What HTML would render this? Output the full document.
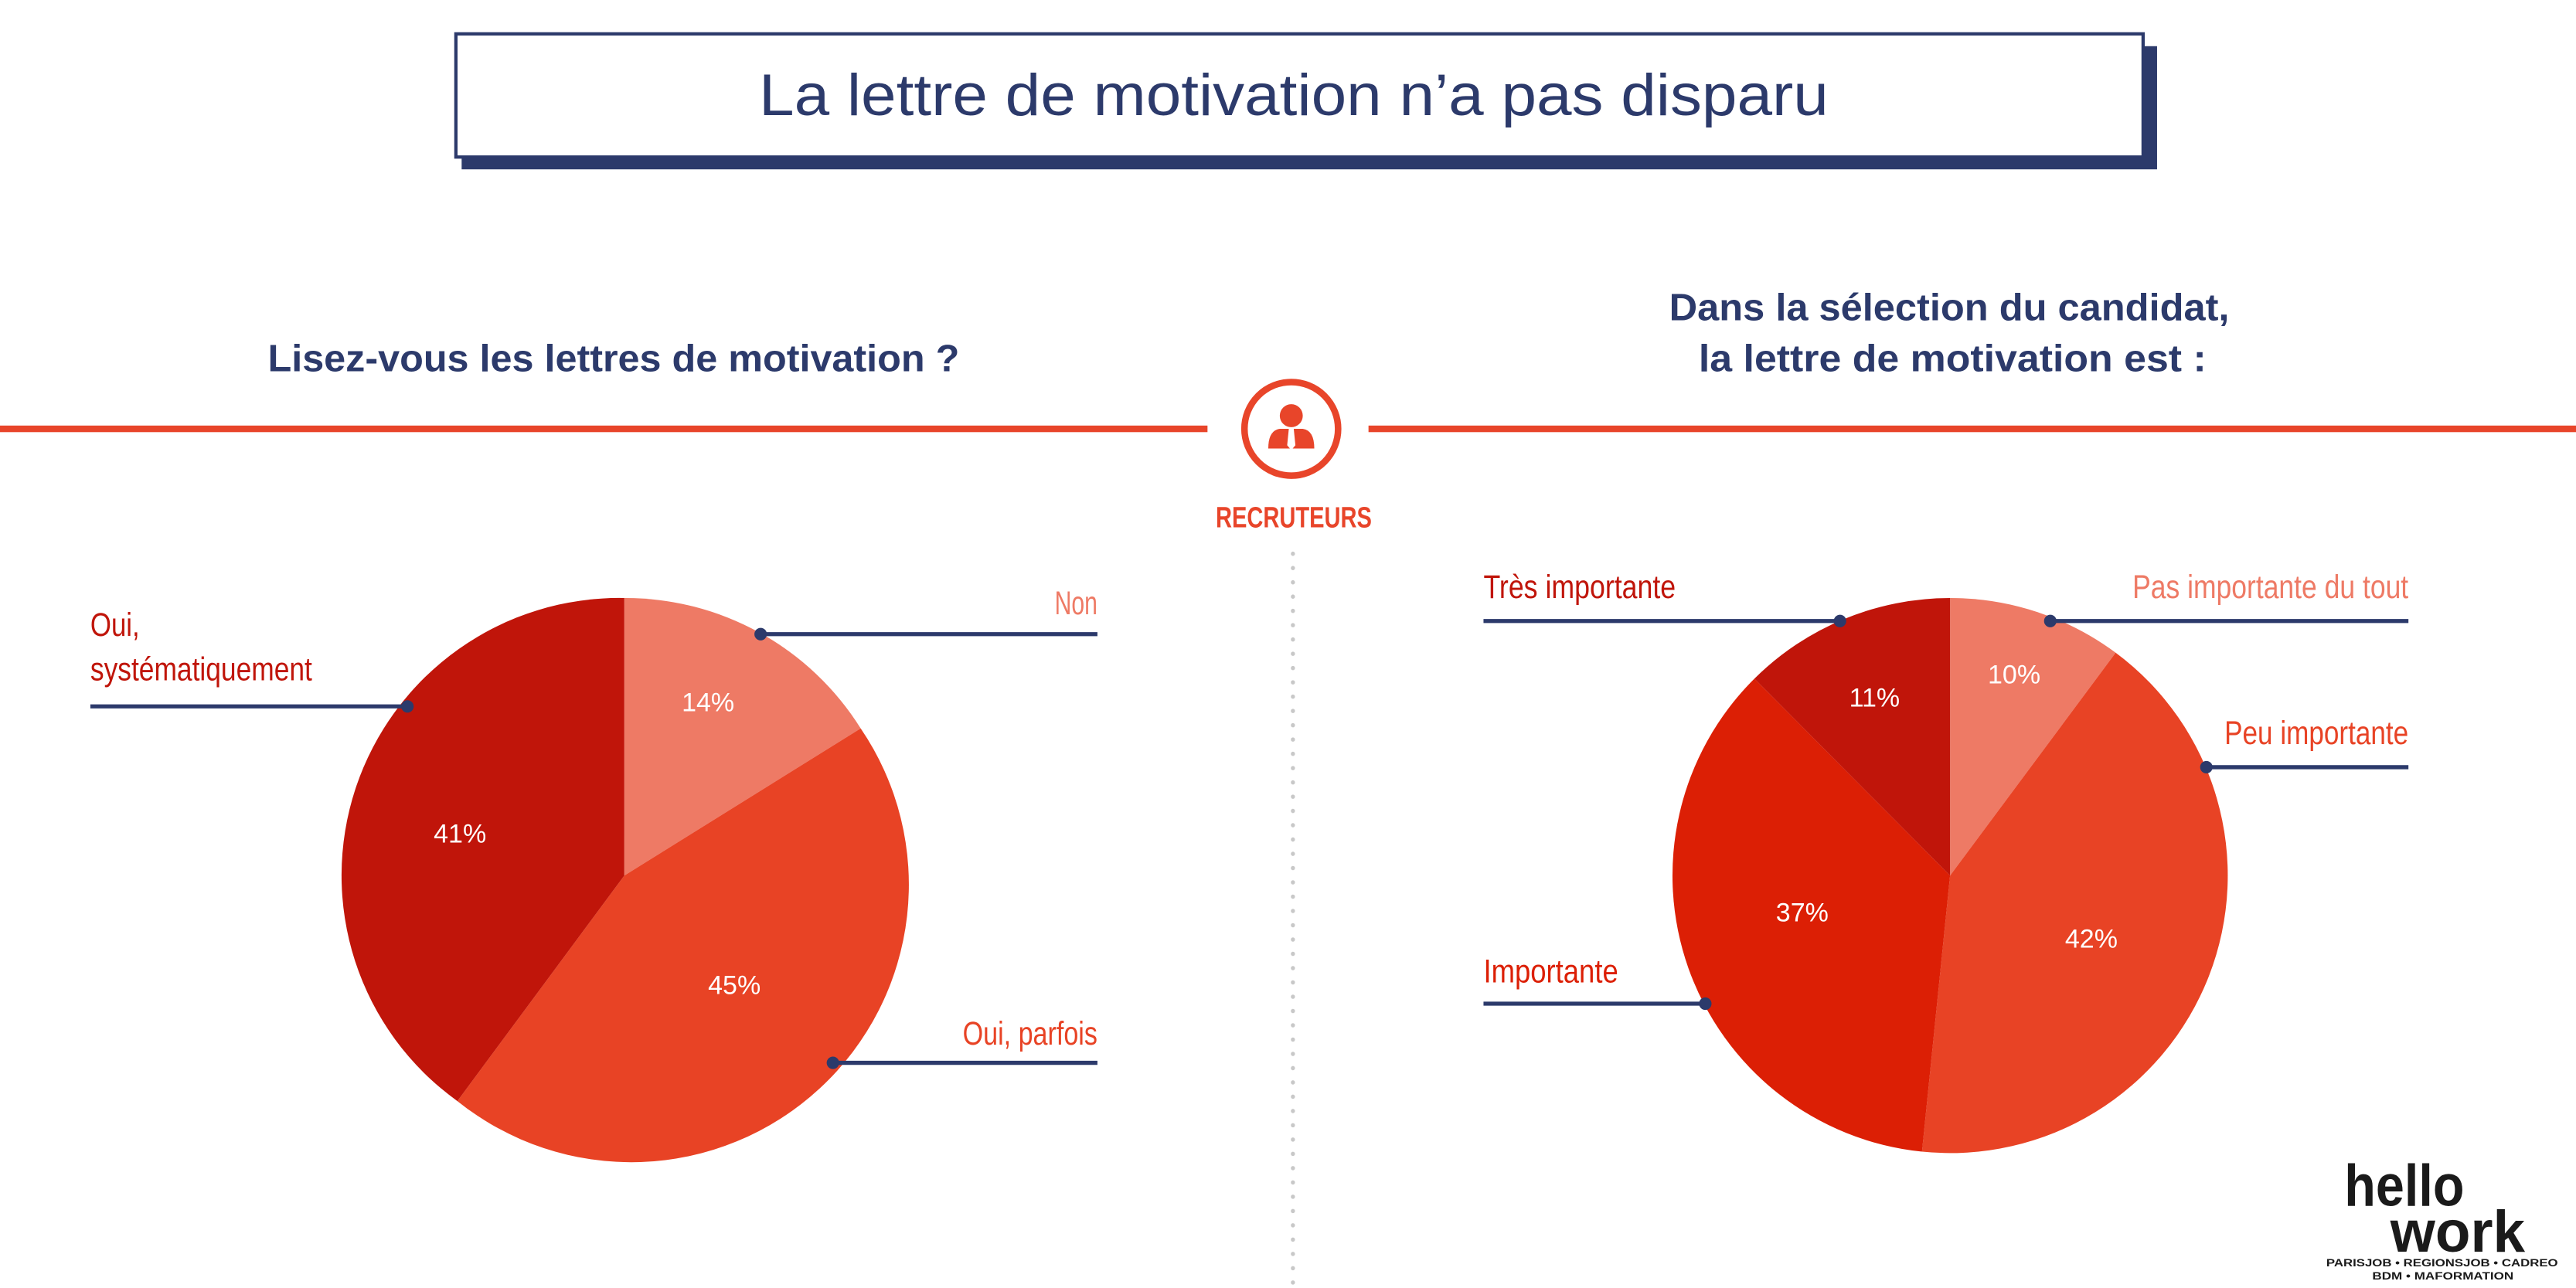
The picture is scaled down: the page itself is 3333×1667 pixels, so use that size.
<!DOCTYPE html>
<html><head><meta charset="utf-8"><style>
html,body{margin:0;padding:0;background:#fff;}
svg{display:block}
</style></head><body>
<svg width="3333" height="1667" viewBox="0 0 1568 784" xmlns="http://www.w3.org/2000/svg">
<rect width="1568" height="784" fill="#fff"/>
<!-- title box -->
<rect x="281" y="28" width="1032" height="75" fill="#2c3a6b"/>
<rect x="277.5" y="20.5" width="1027" height="75" fill="#fff" stroke="#2c3a6b" stroke-width="2"/>
<text x="462" y="70" textLength="651" lengthAdjust="spacingAndGlyphs" font-family="Liberation Sans, sans-serif" font-size="36" fill="#2c3a6b">La lettre de motivation n’a pas disparu</text>
<!-- headings -->
<g font-family="Liberation Sans, sans-serif" font-weight="bold" font-size="23" fill="#2c3a6b">
<text x="163" y="226" textLength="421" lengthAdjust="spacingAndGlyphs">Lisez-vous les lettres de motivation ?</text>
<text x="1016" y="195" textLength="341" lengthAdjust="spacingAndGlyphs">Dans la sélection du candidat,</text>
<text x="1034" y="226" textLength="309" lengthAdjust="spacingAndGlyphs">la lettre de motivation est :</text>
</g>
<!-- red line -->
<rect x="0" y="259" width="735" height="4" fill="#e8452a"/>
<rect x="833" y="259" width="735" height="4" fill="#e8452a"/>
<circle cx="786" cy="261" r="28.5" fill="#fff" stroke="#e8452a" stroke-width="4"/>
<circle cx="786" cy="253" r="7" fill="#e8452a"/>
<path d="M772 273 Q772 262 779 261 L793 261 Q800 262 800 273 Z" fill="#e8452a"/>
<path d="M784.5 261 L787.5 261 L788.5 271 L786 274 L783.5 271 Z" fill="#fff"/>
<text x="740" y="321" textLength="95" lengthAdjust="spacingAndGlyphs" font-family="Liberation Sans, sans-serif" font-weight="bold" font-size="18" fill="#e8452a">RECRUTEURS</text>
<!-- dotted line -->
<line x1="787" y1="337" x2="787" y2="784" stroke="#c8c8c8" stroke-width="2.5" stroke-linecap="round" stroke-dasharray="0.1 8.6"/>
<!-- left pie -->
<path d="M380 533 L380 364 A169 169 0 0 1 523.9 443.4 Z" fill="#ee7a65"/>
<path d="M380 533 L523.9 443.4 A169 169 0 0 1 278.4 670.3 Z" fill="#e84325"/>
<path d="M380 533 L278.4 670.3 A169 169 0 0 1 380 364 Z" fill="#c0150a"/>
<!-- right pie -->
<path d="M1187 533 L1187 364 A169 169 0 0 1 1287.8 397.3 Z" fill="#ee7a65"/>
<path d="M1187 533 L1287.8 397.3 A169 169 0 0 1 1169.9 701.1 Z" fill="#e84325"/>
<path d="M1187 533 L1169.9 701.1 A169 169 0 0 1 1067.9 413.1 Z" fill="#dc1f05"/>
<path d="M1187 533 L1067.9 413.1 A169 169 0 0 1 1187 364 Z" fill="#c0150a"/>
<!-- percentages -->
<g font-family="Liberation Sans, sans-serif" font-size="16" fill="#fff" text-anchor="middle">
<text x="431" y="433">14%</text>
<text x="280" y="513">41%</text>
<text x="447" y="605">45%</text>
<text x="1226" y="416">10%</text>
<text x="1141" y="430">11%</text>
<text x="1097" y="561">37%</text>
<text x="1273" y="577">42%</text>
</g>
<!-- leader lines -->
<g stroke="#2c3a6b" stroke-width="2.5" fill="none">
<line x1="463" y1="386" x2="668" y2="386"/>
<line x1="55" y1="430" x2="248" y2="430"/>
<line x1="507" y1="647" x2="668" y2="647"/>
<line x1="903" y1="378" x2="1120" y2="378"/>
<line x1="1248" y1="378" x2="1466" y2="378"/>
<line x1="1343" y1="467" x2="1466" y2="467"/>
<line x1="903" y1="611" x2="1038" y2="611"/>
</g>
<g fill="#2c3a6b">
<circle cx="463" cy="386" r="3.8"/><circle cx="248" cy="430" r="3.8"/><circle cx="507" cy="647" r="3.8"/>
<circle cx="1120" cy="378" r="3.8"/><circle cx="1248" cy="378" r="3.8"/><circle cx="1343" cy="467" r="3.8"/><circle cx="1038" cy="611" r="3.8"/>
</g>
<!-- labels -->
<g font-family="Liberation Sans, sans-serif" font-size="20" lengthAdjust="spacingAndGlyphs">
<text x="642" y="374" textLength="26" lengthAdjust="spacingAndGlyphs" fill="#ee7a65">Non</text>
<text x="55" y="387" textLength="30" lengthAdjust="spacingAndGlyphs" fill="#c0150a">Oui,</text>
<text x="55" y="414" textLength="135" lengthAdjust="spacingAndGlyphs" fill="#c0150a">systématiquement</text>
<text x="586" y="636" textLength="82" lengthAdjust="spacingAndGlyphs" fill="#e84325">Oui, parfois</text>
<text x="903" y="364" textLength="117" lengthAdjust="spacingAndGlyphs" fill="#c0150a">Très importante</text>
<text x="1298" y="364" textLength="168" lengthAdjust="spacingAndGlyphs" fill="#ee7a65">Pas importante du tout</text>
<text x="1354" y="453" textLength="112" lengthAdjust="spacingAndGlyphs" fill="#e84325">Peu importante</text>
<text x="903" y="598" textLength="82" lengthAdjust="spacingAndGlyphs" fill="#dc1f05">Importante</text>
</g>
<!-- logo -->
<g font-family="Liberation Sans, sans-serif" font-weight="bold" fill="#1a1a1a">
<text x="1427" y="734" font-size="36" textLength="73" lengthAdjust="spacingAndGlyphs">hello</text>
<text x="1455" y="762" font-size="36" textLength="82" lengthAdjust="spacingAndGlyphs">work</text>
<text x="1416" y="771" font-size="6.5" textLength="141" lengthAdjust="spacingAndGlyphs">PARISJOB • REGIONSJOB • CADREO</text>
<text x="1444" y="779" font-size="6.5" textLength="86" lengthAdjust="spacingAndGlyphs">BDM • MAFORMATION</text>
</g>
</svg>
</body></html>
